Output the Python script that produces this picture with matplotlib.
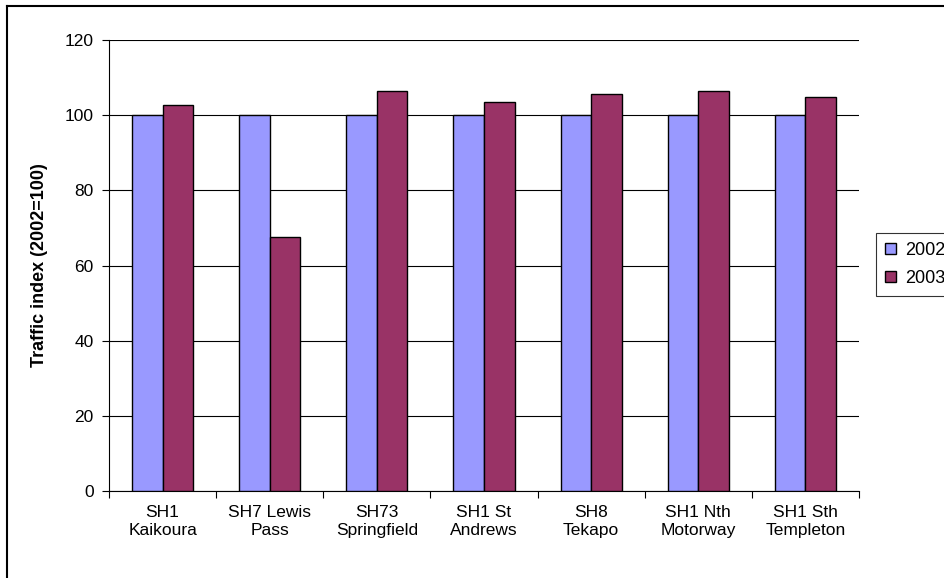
import matplotlib
matplotlib.use("Agg")
import matplotlib.pyplot as plt
import numpy as np
from matplotlib.lines import Line2D

categories = ["SH1\nKaikoura", "SH7 Lewis\nPass", "SH73\nSpringfield", "SH1 St\nAndrews",
              "SH8\nTekapo", "SH1 Nth\nMotorway", "SH1 Sth\nTempleton"]
s2002 = [100, 100, 100, 100, 100, 100, 100]
s2003 = [102.8, 67.7, 106.3, 103.5, 105.6, 106.3, 104.9]
yticks = [0, 20, 40, 60, 80, 100, 120]

plt.rcParams['font.family'] = ['Liberation Sans', 'DejaVu Sans']

W, H = 944, 578
fig = plt.figure(figsize=(9.44, 5.78), dpi=100)
ax = fig.add_axes([109/W, 1-491/H, 750/W, 451/H])

x = np.arange(len(categories))
w = 0.285
ax.bar(x - w/2, s2002, width=w, color='#9999FF', edgecolor='black', linewidth=1, label='2002', zorder=3)
ax.bar(x + w/2, s2003, width=w, color='#993366', edgecolor='black', linewidth=1, label='2003', zorder=3)

ax.set_xlim(-0.5, len(categories) - 0.5)
ax.set_ylim(0, 120)
ax.set_yticks(yticks)
ax.set_yticklabels([str(t) for t in yticks], fontsize=12.5)
ax.yaxis.grid(True, color='black', linewidth=0.8, zorder=0)
ax.set_axisbelow(True)

ax.set_xticks(np.arange(len(categories) + 1) - 0.5)
ax.set_xticklabels([])
ax.set_xticks(x, minor=True)
ax.set_xticklabels(categories, minor=True, fontsize=12.5, linespacing=1.25)
ax.tick_params(axis='x', which='minor', length=0, pad=10)
ax.tick_params(axis='x', which='major', direction='out', length=5, color='black')
ax.tick_params(axis='y', direction='out', length=5, color='black', pad=6)

for sp in ['top', 'right']:
    ax.spines[sp].set_visible(False)
ax.spines['left'].set_color('black')
ax.spines['bottom'].set_color('black')

ax.set_ylabel('Traffic index (2002=100)', fontsize=13, fontweight='bold', labelpad=12)

leg = fig.legend(loc='center left', bbox_to_anchor=(876/W, 1-264.5/H), fontsize=13,
                 frameon=True, fancybox=False, edgecolor='black', handlelength=0.6,
                 handleheight=0.6, handletextpad=0.5, borderpad=0.5, labelspacing=0.6,
                 borderaxespad=0)
leg.get_frame().set_linewidth(0.8)

# chart-area border (left and top only, the rest is cropped away)
fig.add_artist(Line2D([7/W, 7/W], [0, 1-6/H], transform=fig.transFigure, color='black', linewidth=1.5))
fig.add_artist(Line2D([7/W, 1], [1-6/H, 1-6/H], transform=fig.transFigure, color='black', linewidth=1.5))

fig.savefig('out.png', dpi=100)
